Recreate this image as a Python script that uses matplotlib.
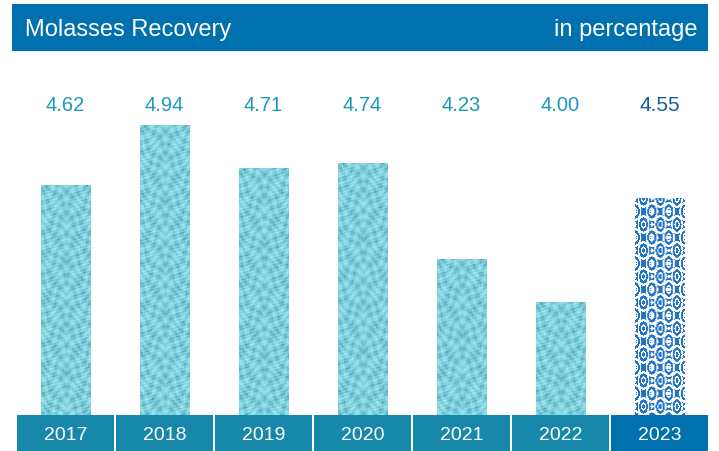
import numpy as np
import matplotlib
matplotlib.use("Agg")
import matplotlib.pyplot as plt
from matplotlib.patches import Rectangle

years = ["2017", "2018", "2019", "2020", "2021", "2022", "2023"]
recovery = [4.62, 4.94, 4.71, 4.74, 4.23, 4.00, 4.55]
labels = ["4.62", "4.94", "4.71", "4.74", "4.23", "4.00", "4.55"]

TITLE_BLUE = "#0070ae"
TEAL_BOX = "#1888aa"
TEAL_TEXT = "#1a9bb5"
DARK_TEXT = "#11609a"

plt.rcParams['font.family'] = ['Liberation Sans', 'DejaVu Sans']

W, H = 719, 451
fig = plt.figure(figsize=(W / 100, H / 100), dpi=100)

def fx(px):
	return px / W

def fy(px):
	# pixel from top -> figure fraction from bottom
	return 1 - px / H

# title banner
fig.patches.append(Rectangle((fx(12), fy(51)), fx(696), 47 / H, transform=fig.transFigure,
	facecolor=TITLE_BLUE, edgecolor="none", zorder=0))
fig.text(fx(25), fy(30), "Molasses Recovery", color="white", fontsize=17, va="center", ha="left")
fig.text(fx(697), fy(30), "in percentage", color="white", fontsize=17, va="center", ha="right")

# main bar area
ymin, pxPerUnit = 3.40, 188.3
top_px, base_px = 60, 415
ax = fig.add_axes([fx(16), fy(base_px), fx(693), (base_px - top_px) / H])
ax.set_xlim(-0.5, 6.5)
ax.set_ylim(ymin, ymin + (base_px - top_px) / pxPerUnit)
ax.axis("off")

def tealTexture(h, w):
	"""mottled light cyan texture (deterministic, not data)"""
	v, u = np.mgrid[0:h, 0:w].astype(float)
	uc = np.abs(u - w / 2)
	t = (np.sin(uc * 0.55 + 1.8 * np.sin(v * 0.17)) * np.cos(v * 0.45 + 1.2 * np.sin(uc * 0.3))
		+ 0.35 * np.sin(u * 1.3 + v * 0.8) * np.sin(v * 1.1 - u * 0.6)
		+ 0.25 * np.sin(v * 1.9 + u * 0.5))
	t = (t - t.min()) / (t.max() - t.min())
	t = t ** 0.55  # mostly light, with darker blotches
	dark = np.array([55, 150, 172]) / 255
	light = np.array([165, 235, 244]) / 255
	return dark + (light - dark) * t[..., None]

def blueTexture(h, w):
	"""white motif pattern on blue"""
	v, u = np.mgrid[0:h, 0:w].astype(float)
	blue = np.array([36, 116, 196]) / 255
	img = np.tile(blue, (h, w, 1))
	px, py = 16.3, 26.0
	white = np.zeros((h, w), bool)
	for off in (0.0, 0.5):
		cu = ((u - 8) / px + off) % 1 - 0.5
		cv = (v / py + off) % 1 - 0.5
		r = np.hypot(cu * px, cv * py * 0.62)
		white |= ((r > 1.5) & (r < 2.6)) | ((r > 4.4) & (r < 5.9))
	# small white petals between motifs
	cu = ((u - 8) / px) % 1 - 0.5
	cv = ((v / py) + 0.25) % 0.5 - 0.25
	white |= (np.abs(cu * px) * 1.4 + np.abs(cv * py) < 2.6)
	img[white] = 1.0
	return img

bars = ax.bar(range(len(years)), [v - ymin for v in recovery], bottom=ymin, width=0.495,
	color="#8fdbe6", edgecolor="none", zorder=2)

for i, (b, v) in enumerate(zip(bars, recovery)):
	last = i == len(recovery) - 1
	hpx = max(int(round((v - ymin) * pxPerUnit)), 1)
	tex = blueTexture(hpx, 49) if last else tealTexture(hpx, 49)
	im = ax.imshow(tex, extent=[b.get_x(), b.get_x() + b.get_width(), ymin, v],
		aspect="auto", interpolation="antialiased", zorder=3)
	im.set_clip_path(b)
	ax.text(i, 5.045, labels[i], ha="center", va="center",
		fontsize=15 if last else 14.5, color=DARK_TEXT if last else TEAL_TEXT)

# year boxes
axb = fig.add_axes([fx(16), 0, fx(693), (H - base_px) / H])
axb.set_xlim(-0.5, 6.5)
axb.set_ylim(0, 1)
axb.axis("off")
boxColors = [TEAL_BOX] * (len(years) - 1) + [TITLE_BLUE]
axb.bar(range(len(years)), [1] * len(years), width=0.98, color=boxColors, edgecolor="none")
for i, y in enumerate(years):
	axb.text(i, 0.42, y, ha="center", va="center", color="white", fontsize=14)

fig.savefig("out.png", dpi=100)
